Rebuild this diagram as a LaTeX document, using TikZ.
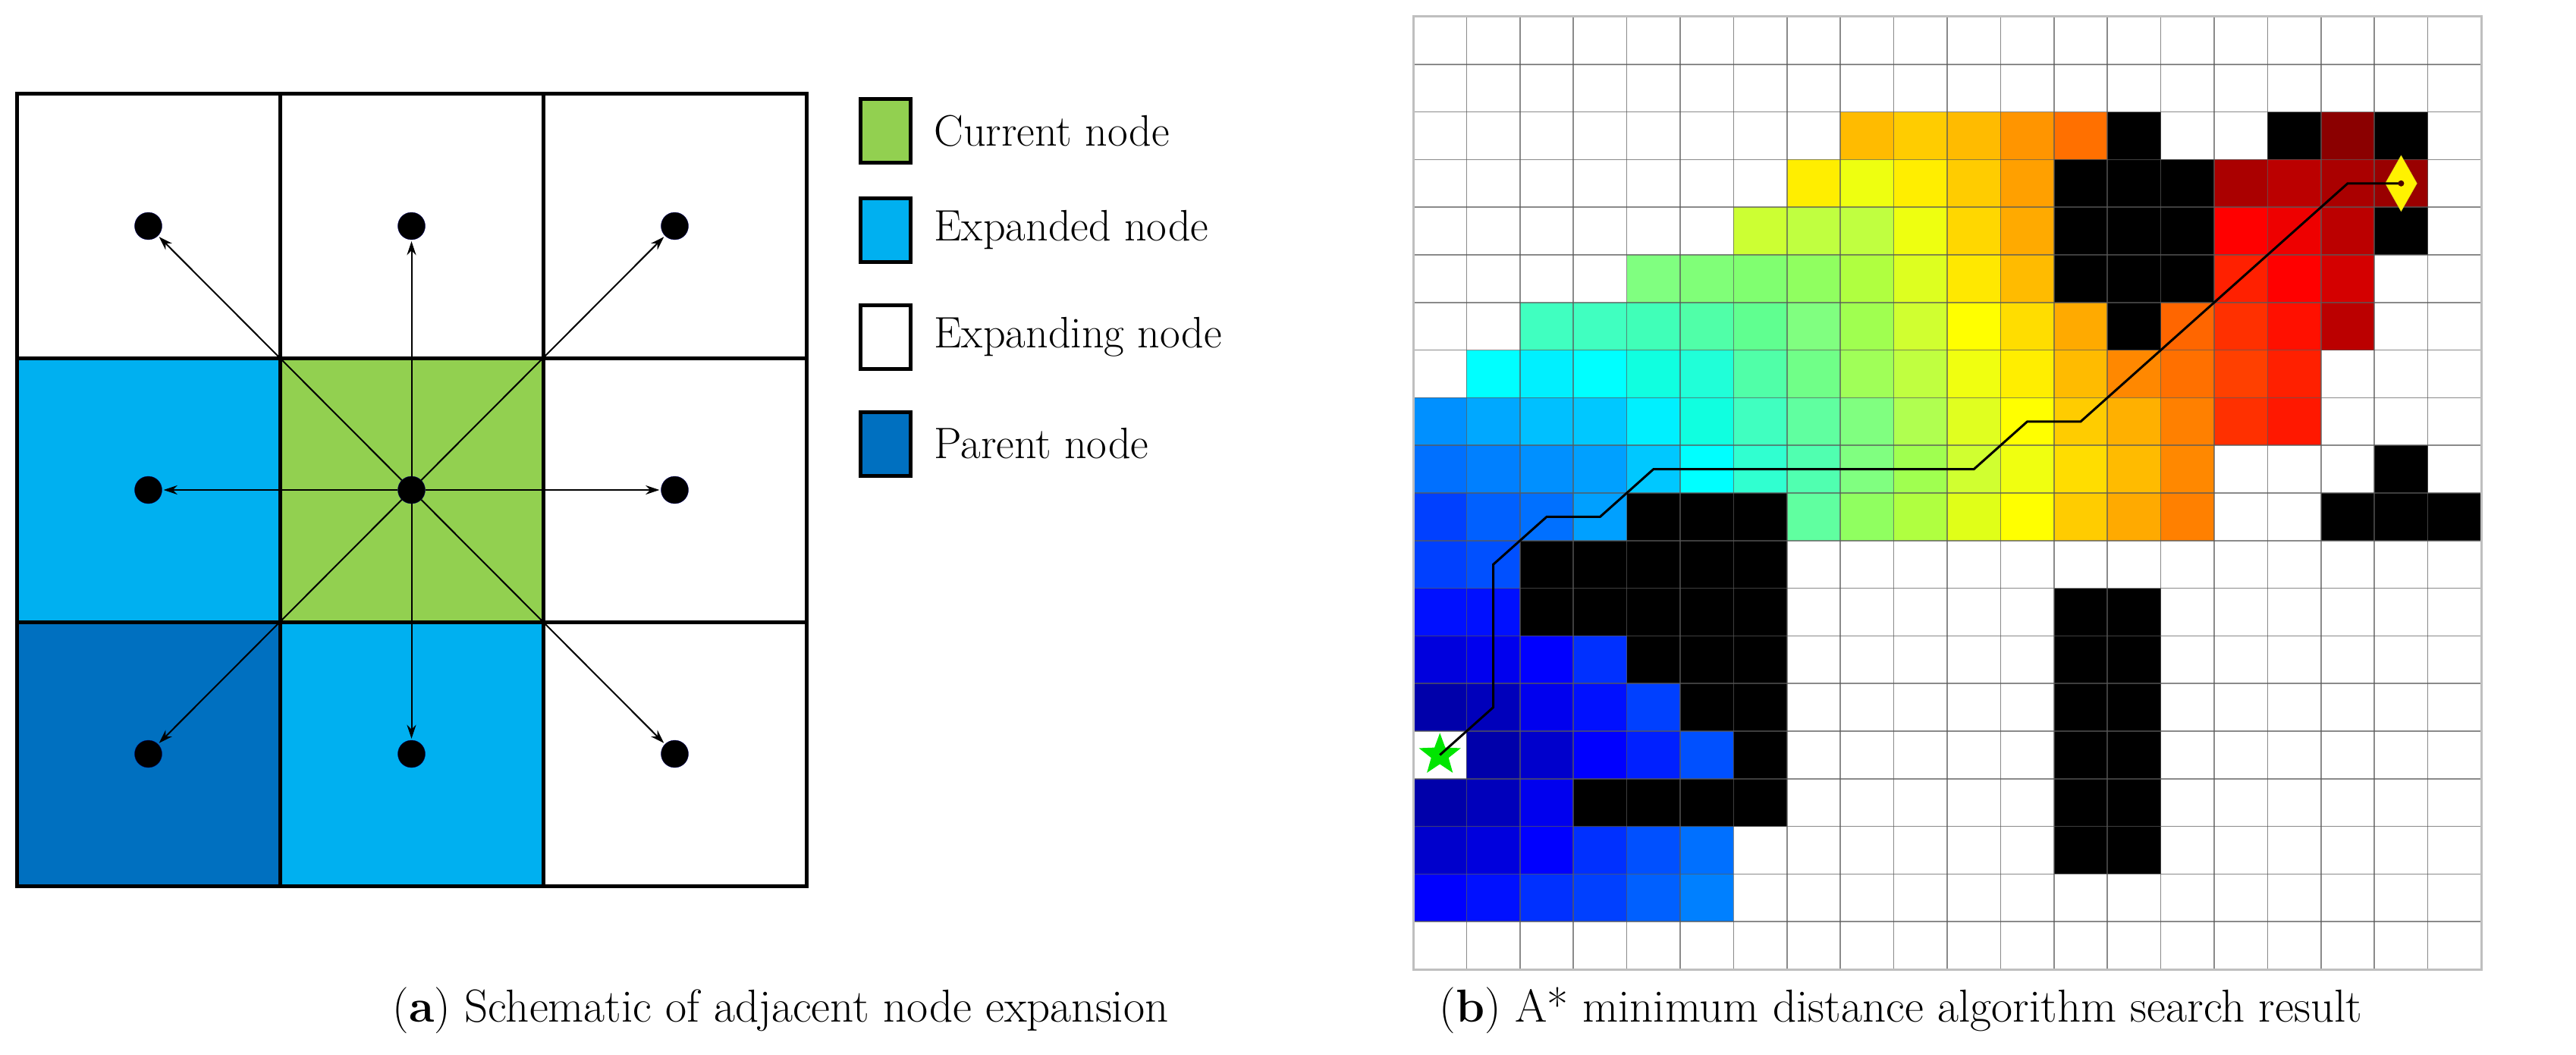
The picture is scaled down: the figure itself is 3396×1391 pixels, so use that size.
\documentclass[tikz,border=0pt]{standalone}
\usepackage{tikz}
\usetikzlibrary{shapes.geometric, arrows.meta}
\usepackage{xcolor}
\definecolor{curgreen}{HTML}{92D050}
\definecolor{expblue}{HTML}{00B0F0}
\definecolor{parblue}{HTML}{0070C0}
\tikzset{
  bigtxt/.style={font=\fontsize{61}{70}\selectfont},
  legtxt/.style={font=\fontsize{58}{66}\selectfont, anchor=west},
  legbox/.style={draw, line width=5pt, minimum width=66pt, minimum height=84pt, inner sep=0pt},
  dot/.style={circle, fill=black, draw=blue!40!black, minimum size=36pt, inner sep=0pt},
  expand/.style={-{Stealth[length=18pt, width=12pt]}, line width=2pt, shorten >=2pt},
  cellline/.style={gray!70!black, opacity=0.7, line width=1.5pt}
}
\begin{document}
\begin{tikzpicture}[x=1pt, y=-1pt]
        \useasboundingbox (0,0) rectangle (3396,1391);
        % (a) neighbour expansion
        \begin{scope}[shift={(22,124)}, x=347pt, y=-348pt]
            \fill[expblue] (0,1) rectangle (1,2);
            \fill[curgreen] (1,1) rectangle (2,2);
            \fill[parblue] (0,2) rectangle (1,3);
            \fill[expblue] (1,2) rectangle (2,3);
            \foreach \k in {0,...,3} {
                \draw[line width=5pt, line cap=rect] (\k,0) -- (\k,3);
                \draw[line width=5pt, line cap=rect] (0,\k) -- (3,\k);
            }
            \foreach \i in {0,1,2}
                \foreach \j in {0,1,2}
                    \node[dot] (d\i\j) at (\i+0.5,\j+0.5) {};
            \foreach \i/\j in {0/0,1/0,2/0,0/1,2/1,0/2,1/2,2/2}
                \draw[expand] (d11) -- (d\i\j);
        \end{scope}
        % legend
        \node[legbox, fill=curgreen] (lcur) at (1167,173) {};
        \node[legbox, fill=expblue] (lexd) at (1167,303) {};
        \node[legbox, fill=white] (lexg) at (1167,444) {};
        \node[legbox, fill=parblue] (lpar) at (1167,585) {};
        \node[legtxt] (tcur) at (1228,173) {Current node};
        \node[legtxt] (texd) at (1228,303) {Expanded node};
        \node[legtxt] (texg) at (1228,444) {Expanding node};
        \node[legtxt] (tpar) at (1228,585) {Parent node};
        % (b) search result
        \begin{scope}[shift={(1863,22)}, x=70.4pt, y=-62.8pt]
            \foreach \r/\cells in {
                2/{8/FFBB00,9/FFCC00,10/FFBB00,11/FF9500,12/FF7000,17/8B0000},
                3/{7/FFEE00,8/EEFF10,9/FFEE00,10/FFCC00,11/FFA000,15/AA0000,16/BB0000,17/AA0000,18/990000},
                4/{6/CCFF33,7/C0FF40,8/C0FF40,9/EEFF10,10/FFD700,11/FFAA00,15/FF0000,16/EE0000,17/BB0000},
                5/{4/80FF80,5/80FF78,6/80FF70,7/90FF60,8/B0FF40,9/DDFF20,10/FFE800,11/FFBB00,15/FF2000,16/FF0000,17/D40000},
                6/{2/40FFC0,3/40FFC0,4/40FFB8,5/50FFA8,6/60FF90,7/80FF80,8/A0FF50,9/D0FF30,10/FFFF00,11/FFDD00,12/FFAA00,14/FF6600,15/FF3000,16/FF1000,17/BB0000},
                7/{1/00FFFF,2/00F0FF,3/00FFFF,4/10FFE0,5/20FFD8,6/50FFA8,7/70FF88,8/A0FF58,9/C0FF40,10/F0FF10,11/FFEE00,12/FFBB00,13/FF8800,14/FF7000,15/FF4000,16/FF2000},
                8/{0/0090FF,1/00A8FF,2/00C0FF,3/00C8FF,4/00F0FF,5/10FFE0,6/40FFC0,7/60FFA0,8/80FF80,9/B0FF50,10/E0FF20,11/FFFF00,12/FFCC00,13/FFB000,14/FF8000,15/FF3000,16/FF1800},
                9/{0/0070FF,1/0080FF,2/0090FF,3/00A0FF,4/00C8FF,5/00FFFF,6/30FFD0,7/50FFB0,8/80FF80,9/A0FF50,10/D0FF30,11/F0FF10,12/FFDD00,13/FFBB00,14/FF8800},
                10/{0/0040FF,1/0060FF,2/0070FF,3/00A0FF,7/60FFA0,8/90FF60,9/B0FF40,10/E0FF18,11/FFFF00,12/FFCC00,13/FFAA00,14/FF8000},
                11/{0/0040FF,1/0050FF},
                12/{0/0010FF,1/0010FF},
                13/{0/0000DD,1/0000EE,2/0000FF,3/0030FF},
                14/{0/0000AA,1/0000BB,2/0000EE,3/0010FF,4/0040FF},
                15/{1/0000AA,2/0000CC,3/0000FF,4/0020FF,5/0050FF},
                16/{0/0000AA,1/0000BB,2/0000EE},
                17/{0/0000CC,1/0000DD,2/0000FF,3/0030FF,4/0050FF,5/0070FF},
                18/{0/0000FF,1/0010FF,2/0030FF,3/0040FF,4/0060FF,5/0080FF}}
                \foreach \c/\h in \cells {
                    \definecolor{cellc}{HTML}{\h}
                    \fill[cellc] (\c,\r) rectangle (\c+1,\r+1);
                }
            % obstacles
            \foreach \ca/\ra/\cb/\rb in {13/2/13/2, 12/3/14/5, 13/6/13/6, 16/2/16/2, 18/2/18/2, 18/4/18/4,
                    18/9/18/9, 17/10/19/10, 4/10/6/10, 2/11/6/12, 4/13/6/13, 5/14/6/14, 6/15/6/15,
                    3/16/6/16, 12/12/13/17}
                \fill[black] (\ca,\ra) rectangle (\cb+1,\rb+1);
            \foreach \k in {1,...,19} {
                \draw[cellline] (\k,0) -- (\k,20);
                \draw[cellline] (0,\k) -- (20,\k);
            }
            \draw[gray!50, line width=3pt] (0,0) rectangle (20,20);
            \node[star, star points=5, star point ratio=2.4, fill=green!90!black, minimum size=58pt, inner sep=0pt] (start) at (0.5,15.5) {};
            \node[diamond, fill=yellow, draw=yellow!80!black, minimum width=42pt, minimum height=74pt, inner sep=0pt, aspect=0.6] (goal) at (18.5,3.5) {};
            \draw[line width=3pt] (start.center) -- (1.5,14.5) -- (1.5,11.5) -- (2.5,10.5) -- (3.5,10.5)
                -- (4.5,9.5) -- (10.5,9.5) -- (11.5,8.5) -- (12.5,8.5) -- (17.5,3.5) -- (goal.center);
            \fill[black!70!red] (goal.center) circle (4pt);
        \end{scope}
        % captions
        \node[bigtxt] (capa) at (1029,1332) {(\textbf{a}) Schematic of adjacent node expansion};
        \node[bigtxt] (capb) at (2506,1332) {(\textbf{b}) A* minimum distance algorithm search result};
    \end{tikzpicture}
\end{document}
